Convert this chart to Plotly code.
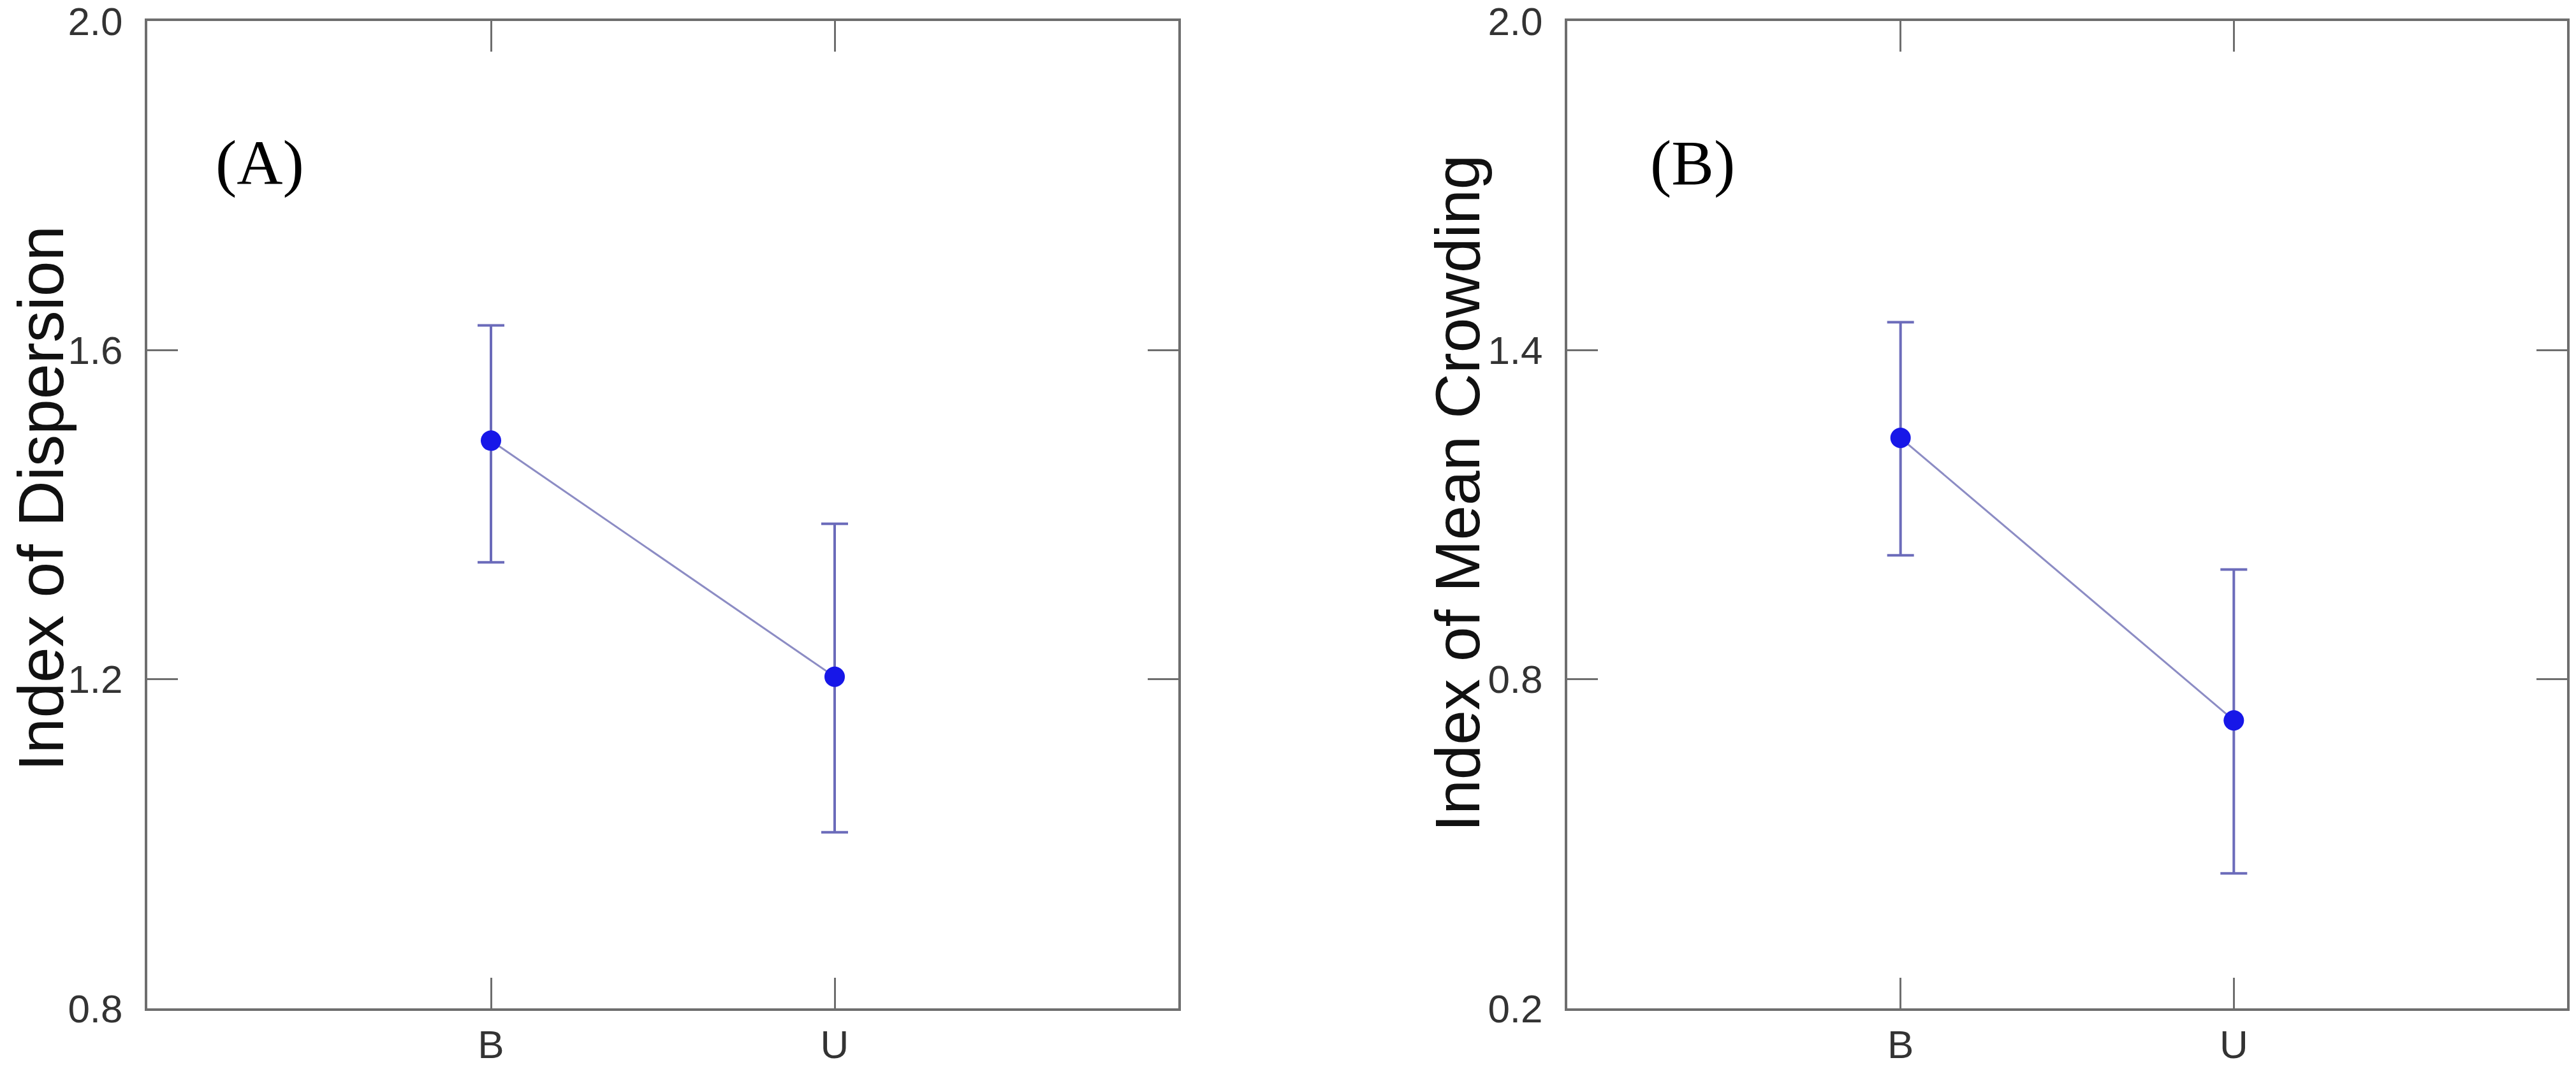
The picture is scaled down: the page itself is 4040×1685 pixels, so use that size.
import plotly.graph_objects as go

# ---- data ----
categories = ["B", "U"]

dispersion_mean = [1.49, 1.203]
dispersion_upper = [1.630, 1.389]
dispersion_lower = [1.342, 1.014]

crowding_mean = [1.240, 0.725]
crowding_upper = [1.451, 1.000]
crowding_lower = [1.026, 0.446]

dispersion_ticks = [0.8, 1.2, 1.6, 2.0]
crowding_ticks = [0.2, 0.8, 1.4, 2.0]

panel_titles = ["Index of Dispersion", "Index of Mean Crowding"]
panel_tags = ["(A)", "(B)"]

# ---- styling ----
W, H = 4040, 1685
OFF = 8  # page body margin offset
MARKER_COLOR = "#1717e8"
LINE_COLOR = "#8c8cc4"
ERR_COLOR = "#6b6bba"
AXIS_COLOR = "#6e6e6e"
TICK_FONT = dict(family="Liberation Sans, Arial, sans-serif", size=62, color="#333333")


def px_x(p):
    return (p - OFF) / W


def px_y(p):
    return 1 - (p - OFF) / H


fig = go.Figure()

panels = [
    (dispersion_mean, dispersion_upper, dispersion_lower, dispersion_ticks, "x", "y"),
    (crowding_mean, crowding_upper, crowding_lower, crowding_ticks, "x2", "y2"),
]

for mean, upper, lower, ticks, xa, ya in panels:
    err_plus = [u - m for u, m in zip(upper, mean)]
    err_minus = [m - l for m, l in zip(mean, lower)]
    fig.add_trace(go.Scatter(
        x=categories, y=mean, mode="lines",
        line=dict(color=LINE_COLOR, width=3),
        xaxis=xa, yaxis=ya, showlegend=False, hoverinfo="skip",
    ))
    fig.add_trace(go.Scatter(
        x=categories, y=mean, mode="markers",
        marker=dict(color=MARKER_COLOR, size=32, line=dict(width=0)),
        error_y=dict(type="data", symmetric=False, array=err_plus, arrayminus=err_minus,
                     color=ERR_COLOR, thickness=4, width=21),
        xaxis=xa, yaxis=ya, showlegend=False,
    ))

common_axis = dict(
    showline=True, linecolor=AXIS_COLOR, linewidth=4, mirror="allticks",
    ticks="inside", ticklen=48, tickwidth=3, tickcolor=AXIS_COLOR,
    showgrid=False, zeroline=False, tickfont=TICK_FONT, automargin=False,
)

# pixel geometry of the two panels (screen pixels)
A_left, A_right = 231, 1848
B_left, B_right = 2458, 4026
top_px, bot_px = 33, 1582

fig.update_layout(
    width=W, height=H,
    margin=dict(l=0, r=0, t=0, b=0, autoexpand=False),
    paper_bgcolor="white", plot_bgcolor="white",
    xaxis=dict(domain=[px_x(A_left), px_x(A_right)], type="category", range=[-1, 2],
               anchor="y", ticklabelstandoff=0, **common_axis),
    yaxis=dict(domain=[px_y(bot_px), px_y(top_px)], range=[0.8, 2.0], tickvals=dispersion_ticks,
               ticktext=[f"{v:.1f}" for v in dispersion_ticks], anchor="x",
               ticklabelstandoff=22, ticklabeloverflow="allow", **common_axis),
    xaxis2=dict(domain=[px_x(B_left), px_x(B_right)], type="category", range=[-1, 2],
                anchor="y2", ticklabelstandoff=0, **common_axis),
    yaxis2=dict(domain=[px_y(bot_px), px_y(top_px)], range=[0.2, 2.0], tickvals=crowding_ticks,
                ticktext=[f"{v:.1f}" for v in crowding_ticks], anchor="x2",
                ticklabelstandoff=22, ticklabeloverflow="allow", **common_axis),
)

annotations = [
    dict(text=panel_titles[0], x=px_x(64), y=px_y(782), xref="paper", yref="paper",
         textangle=-90, showarrow=False, xanchor="center", yanchor="middle",
         font=dict(family="Liberation Sans, Arial, sans-serif", size=100, color="#111111")),
    dict(text=panel_titles[1], x=px_x(2286), y=px_y(774), xref="paper", yref="paper",
         textangle=-90, showarrow=False, xanchor="center", yanchor="middle",
         font=dict(family="Liberation Sans, Arial, sans-serif", size=98, color="#111111")),
    dict(text=panel_tags[0], x=px_x(407), y=px_y(255), xref="paper", yref="paper",
         showarrow=False, xanchor="center", yanchor="middle",
         font=dict(family="Liberation Serif, Times New Roman, serif", size=100, color="#000000")),
    dict(text=panel_tags[1], x=px_x(2654), y=px_y(255), xref="paper", yref="paper",
         showarrow=False, xanchor="center", yanchor="middle",
         font=dict(family="Liberation Serif, Times New Roman, serif", size=100, color="#000000")),
]
fig.update_layout(annotations=annotations)

fig.write_html("out.html")
